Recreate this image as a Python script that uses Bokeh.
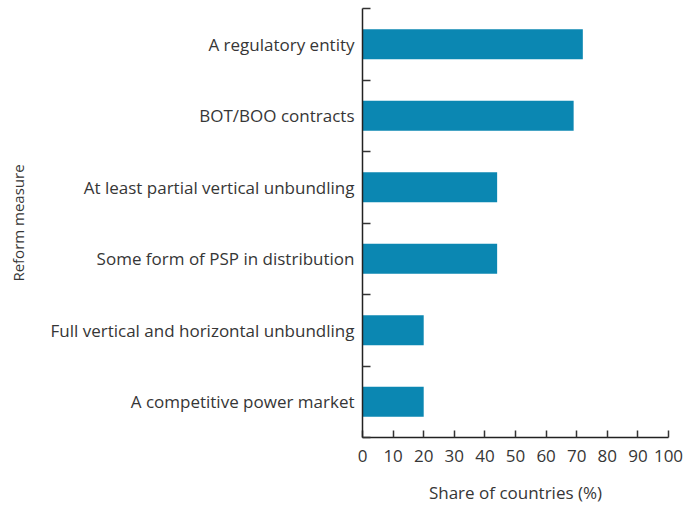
from bokeh.plotting import figure
from bokeh.models import FixedTicker, Range1d
from bokeh.embed import file_html
from bokeh.resources import INLINE

# Data (top to bottom)
measures = [
    "A regulatory entity",
    "BOT/BOO contracts",
    "At least partial vertical unbundling",
    "Some form of PSP in distribution",
    "Full vertical and horizontal unbundling",
    "A competitive power market",
]
shares = [72, 69, 44, 44, 20, 20]
x_ticks = [0, 10, 20, 30, 40, 50, 60, 70, 80, 90, 100]

n = len(measures)
centers = [n - i - 0.5 for i in range(n)]
bounds = list(range(n + 1))

FONT = "Open Sans"
TXT = "#363636"
BAR = "#0b87b2"

p = figure(width=698, height=506, output_backend="svg", toolbar_location=None,
           x_range=Range1d(0, 100), y_range=Range1d(0, n),
           min_border_left=362, min_border_right=30, min_border_top=8,
           min_border_bottom=66)
p.outline_line_color = None
p.grid.grid_line_color = None
p.background_fill_color = "white"
p.border_fill_color = "white"

p.hbar(y=centers, right=shares, left=0, height=0.42, color=BAR, line_color=None)

# y axis
ya = p.yaxis[0]
ya.ticker = FixedTicker(ticks=centers, minor_ticks=bounds)
ya.major_label_overrides = {c: m for c, m in zip(centers, measures)}
ya.major_tick_line_color = None
ya.minor_tick_in = 8
ya.minor_tick_out = 0
ya.minor_tick_line_color = "#333333"
ya.minor_tick_line_width = 1.5
ya.axis_line_color = "#222222"
ya.axis_line_width = 1.5
ya.major_label_text_font = FONT
ya.major_label_text_font_size = "17px"
ya.major_label_text_color = TXT
ya.major_label_standoff = 2
ya.axis_label = "Reform measure"
ya.axis_label_text_font = FONT
ya.axis_label_text_font_size = "15px"
ya.axis_label_text_font_style = "normal"
ya.axis_label_text_color = TXT
ya.axis_label_standoff = 20

# x axis
xa = p.xaxis[0]
xa.ticker = FixedTicker(ticks=x_ticks)
xa.major_tick_in = 7
xa.major_tick_out = 0
xa.major_tick_line_color = "#333333"
xa.major_tick_line_width = 1.5
xa.minor_tick_line_color = None
xa.axis_line_color = "#222222"
xa.axis_line_width = 1.5
xa.major_label_text_font = FONT
xa.major_label_text_font_size = "17px"
xa.major_label_text_color = TXT
xa.major_label_standoff = 12
xa.axis_label = "Share of countries (%)"
xa.axis_label_text_font = FONT
xa.axis_label_text_font_size = "17px"
xa.axis_label_text_font_style = "normal"
xa.axis_label_text_color = TXT
xa.axis_label_standoff = 16

open("out.html", "w").write(file_html(p, INLINE))
